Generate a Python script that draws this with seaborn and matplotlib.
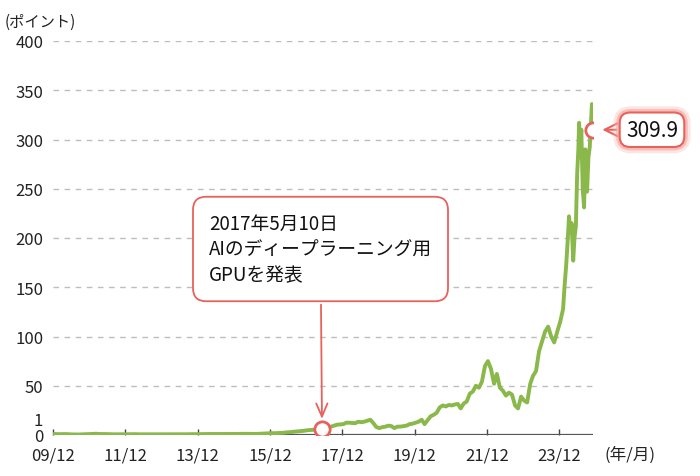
import numpy as np
import pandas as pd
import matplotlib
matplotlib.use("Agg")
import matplotlib.pyplot as plt
import matplotlib.patheffects as pe
from matplotlib.transforms import ScaledTranslation
import seaborn as sns

# monthly index values (start of series = 1), 2009-12 .. 2023-12
monthly_values = [
    1.0,
    0.9, 0.85, 0.95, 0.95, 0.75, 0.6, 0.55, 0.5, 0.6, 0.7, 0.75, 0.85,      # 2010
    1.1, 1.3, 1.0, 1.0, 1.1, 0.9, 0.75, 0.7, 0.7, 0.8, 0.75, 0.75,          # 2011
    0.8, 0.8, 0.85, 0.7, 0.7, 0.75, 0.65, 0.75, 0.7, 0.65, 0.65, 0.7,       # 2012
    0.75, 0.7, 0.7, 0.75, 0.8, 0.8, 0.8, 0.75, 0.85, 0.85, 0.85, 0.9,       # 2013
    0.9, 1.0, 1.0, 1.0, 1.05, 1.0, 0.95, 1.05, 1.0, 1.0, 1.1, 1.1,          # 2014
    1.05, 1.2, 1.15, 1.2, 1.2, 1.1, 1.05, 1.2, 1.35, 1.5, 1.7, 1.8,         # 2015
    1.8, 1.9, 2.1, 2.2, 2.6, 2.8, 3.1, 3.4, 3.6, 3.9, 4.3, 4.8,             # 2016
    5.0, 5.3, 5.1, 5.4, 6.5, 7.5, 8.0, 8.5, 9.5, 10.5, 10.8, 11.0,          # 2017
    12.5, 12.5, 12.2, 12.0, 13.5, 13.0, 13.5, 14.5, 15.5, 12.0, 8.0, 7.0,   # 2018
    8.0, 8.5, 9.5, 9.0, 7.0, 8.5, 8.5, 9.0, 9.5, 11.0, 11.5, 12.5,          # 2019
    13.5, 15.5, 11.0, 15.0, 19.0, 20.5, 22.5, 28.0, 30.0, 29.0, 30.5, 30.0, # 2020
    31.0, 31.5, 27.0, 32.0, 34.0, 42.0, 44.0, 50.0, 48.0, 54.0, 70.0, 75.0, # 2021
    67.0, 52.0, 62.0, 48.0, 45.0, 40.0, 43.0, 41.0, 30.0, 27.0, 39.0, 35.0, # 2022
    33.0, 52.0, 60.0, 65.0, 85.0, 95.0, 105.0, 110.0, 100.0, 94.0, 105.0, 115.0,  # 2023
]

# denser points for 2024
recent_dates = [
    "2024-01-08", "2024-01-22", "2024-02-08", "2024-02-22", "2024-03-08", "2024-03-20",
    "2024-04-03", "2024-04-19", "2024-05-02", "2024-05-16", "2024-05-29", "2024-06-10",
    "2024-06-18", "2024-06-26", "2024-07-10", "2024-07-24", "2024-08-07", "2024-08-19",
    "2024-09-06", "2024-09-20", "2024-10-03", "2024-10-16", "2024-10-25", "2024-11-01",
]
recent_values = [
    128, 150, 172, 195, 222, 205,
    215, 177, 200, 212, 265, 290,
    317, 282, 310, 250, 231, 290,
    247, 282, 292, 318, 336, 309.9,
]

event_date = "2017-05-10"
event_text = "2017年5月10日\nAIのディープラーニング用\nGPUを発表"

y_ticks = [0, 1, 50, 100, 150, 200, 250, 300, 350, 400]
x_tick_years = [2009, 2011, 2013, 2015, 2017, 2019, 2021, 2023]
x_tick_labels = ["09/12", "11/12", "13/12", "15/12", "17/12", "19/12", "21/12", "23/12"]

LINE_COLOR = "#8ab84a"
RED = "#e8625b"

monthly_dates = pd.date_range("2009-12-01", periods=len(monthly_values), freq="MS") + pd.Timedelta(days=9)
df = pd.DataFrame({
    "date": list(monthly_dates) + list(pd.to_datetime(recent_dates)),
    "value": monthly_values + recent_values,
})

sns.set_theme(style="white")
plt.rcParams["font.family"] = ["Noto Sans CJK JP", "DejaVu Sans"]

fig = plt.figure(figsize=(7, 4.77), dpi=100)
ax = fig.add_axes([53 / 700, 41 / 477, 540 / 700, 394 / 477])

for v in y_ticks:
    if v >= 50:
        ax.axhline(v, color="#bdbdbd", lw=1, ls=(0, (4, 4)), zorder=0)
ax.axhline(0, color="#555555", lw=1.6, zorder=1)

sns.lineplot(data=df, x="date", y="value", ax=ax, color=LINE_COLOR, linewidth=2.8, zorder=3)

ax.set_xlim(pd.Timestamp("2009-12-01"), pd.Timestamp("2024-11-05"))
ax.set_ylim(0, 400)
ax.set_xlabel("")
ax.set_ylabel("")
for s in ax.spines.values():
    s.set_visible(False)

ax.set_xticks([pd.Timestamp(f"{y}-12-01") for y in x_tick_years])
ax.set_xticklabels(x_tick_labels)
ax.set_yticks(y_ticks)
ax.set_yticklabels([str(v) for v in y_ticks])
ax.tick_params(axis="x", direction="in", length=4, width=1, color="#444444",
               pad=8, labelsize=12, labelcolor="#222222", bottom=True)
ax.tick_params(axis="y", length=0, pad=7, labelsize=12, labelcolor="#222222")

# nudge the "1" label up so it does not sit on top of "0"
for tick, v in zip(ax.yaxis.get_major_ticks(), y_ticks):
    if v == 1:
        tick.label1.set_transform(tick.label1.get_transform()
                                  + ScaledTranslation(0, 0.16, fig.dpi_scale_trans))

# event marker and callout
ev = df[df["date"] == pd.Timestamp(event_date)].iloc[0]
ax.plot([ev["date"]], [ev["value"]], marker="o", ms=11, mfc="white", mec=RED, mew=2, zorder=5)
ax.annotate(event_text, xy=(ev["date"], ev["value"]), xytext=(320.5, 477 - 250),
            textcoords="figure pixels", ha="center", va="center", multialignment="left",
            fontsize=13.5, linespacing=1.3, color="#111111",
            bbox=dict(boxstyle="round,pad=0.85,rounding_size=0.7", fc="white", ec=RED, lw=1.3),
            arrowprops=dict(arrowstyle="->,head_length=0.7,head_width=0.3", color=RED,
                            lw=1.3, shrinkB=7))

# last value callout
last = df.iloc[-1]
ax.plot([last["date"]], [last["value"]], marker="o", ms=11, mfc="white", mec=RED, mew=2, zorder=5)
ann = ax.annotate(f"{last['value']:.1f}", xy=(last["date"], last["value"]), xytext=(24, 0),
                  textcoords="offset points", ha="left", va="center", fontsize=15,
                  color="#111111", annotation_clip=False,
                  bbox=dict(boxstyle="round,pad=0.3,rounding_size=0.5", fc="white", ec=RED, lw=1.5),
                  arrowprops=dict(arrowstyle="->,head_length=0.6,head_width=0.3", color=RED,
                                  lw=1.5, shrinkB=7))
ann.get_bbox_patch().set_path_effects([
    pe.Stroke(linewidth=9, foreground="#f7b8b3", alpha=0.35),
    pe.Stroke(linewidth=5, foreground="#f19790", alpha=0.5),
    pe.Normal(),
])

fig.text(5 / 700, 1 - 22 / 477, "(ポイント)", fontsize=11, va="center", color="#222222")
fig.text(604 / 700, 1 - 455 / 477, "(年/月)", fontsize=12, va="center", color="#222222")

fig.savefig("out.png", dpi=100)
